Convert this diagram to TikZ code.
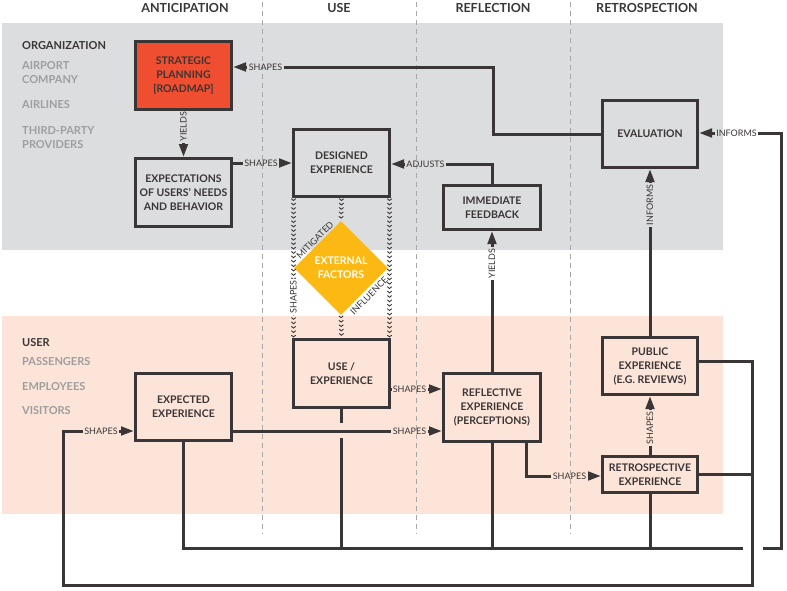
\documentclass[tikz,border=0pt]{standalone}
\usepackage{fontspec}
\setmainfont{Lato}
\usetikzlibrary{arrows.meta,shapes.geometric,decorations.markings}
\definecolor{bandgray}{HTML}{DCDDDF}
\definecolor{bandpeach}{HTML}{FDE4D8}
\definecolor{stratred}{HTML}{F04E30}
\definecolor{extyellow}{HTML}{FDB913}
\definecolor{ink}{HTML}{3A3536}
\definecolor{subgray}{HTML}{9E9E9E}
\definecolor{dashgray}{HTML}{A8A8A8}
\tikzset{
  box/.style={draw=ink, line width=3pt, minimum width=96pt, text=ink, inner sep=0pt,
    font=\bfseries\fontsize{10.5}{14}\selectfont, align=center},
  hdr/.style={text=ink, inner sep=0pt, font=\bfseries\fontsize{12.5}{14}\selectfont, text height=9pt, text depth=0pt},
  side/.style={anchor=west, inner sep=0pt, font=\bfseries\fontsize{11}{13}\selectfont, text height=8pt, text depth=0pt},
  lbl/.style={text=ink, inner sep=1.5pt, font=\fontsize{9}{10}\selectfont, text height=6.4pt, text depth=0pt},
  ln/.style={draw=ink, line width=3pt, line join=miter},
  arr/.style={ln, -{Triangle[length=13pt,width=8.5pt]}},
  chev/.style={postaction={decorate}, decoration={markings,
     mark=between positions 2.5pt and 1 step 4.4pt with {\draw[ink, line width=0.9pt] (-1.8pt,-2.2pt) -- (0pt,0pt) -- (-1.8pt,2.2pt);}}},
  coldash/.style={draw=dashgray, line width=0.8pt, dash pattern=on 5pt off 4pt}
}
\begin{document}
\begin{tikzpicture}[x=1pt,y=-1pt]
\useasboundingbox (0,0) rectangle (787,590);
\fill[white] (0,0) rectangle (787,590);
% bands
\fill[bandgray] (2,23) rectangle (723,250);
\fill[bandpeach] (2,316) rectangle (723,514);
% column separators
\draw[coldash] (262,2) -- (262,534);
\draw[coldash] (416,2) -- (416,534);
\draw[coldash] (570,2) -- (570,534);
% headers
\node[hdr] (hAnt) at (185,7.5) {ANTICIPATION};
\node[hdr] (hUse) at (339,7.5) {USE};
\node[hdr] (hRef) at (493,7.5) {REFLECTION};
\node[hdr] (hRet) at (647,7.5) {RETROSPECTION};
% side labels
\node[side, text=ink] (sOrg) at (22,45) {ORGANIZATION};
\node[side, text=subgray] (sAir1) at (22,65) {AIRPORT};
\node[side, text=subgray] (sAir2) at (22,79) {COMPANY};
\node[side, text=subgray] (sAirl) at (22,104) {AIRLINES};
\node[side, text=subgray] (sTp1) at (22,130) {THIRD-PARTY};
\node[side, text=subgray] (sTp2) at (22,144) {PROVIDERS};
\node[side, text=ink] (sUser) at (22,342) {USER};
\node[side, text=subgray] (sPas) at (22,361.5) {PASSENGERS};
\node[side, text=subgray] (sEmp) at (22,386) {EMPLOYEES};
\node[side, text=subgray] (sVis) at (22,410.5) {VISITORS};
% boxes
\node[box, minimum height=68pt, fill=stratred] (strat) at (183.5,75.5) {STRATEGIC\\PLANNING\\{[ROADMAP]}};
\node[box, minimum height=68pt] (expect) at (183.5,192.5) {EXPECTATIONS\\OF USERS’ NEEDS\\AND BEHAVIOR};
\node[box, minimum height=67pt] (designed) at (341.5,163) {DESIGNED\\EXPERIENCE};
\node[box, minimum height=44pt, minimum width=97pt] (feedback) at (492,207.5) {IMMEDIATE\\FEEDBACK};
\node[box, minimum height=67pt, minimum width=95pt] (eval) at (650,134) {EVALUATION};
\node[box, minimum height=68pt] (use) at (341.5,373.5) {USE /\\EXPERIENCE};
\node[box, minimum height=67pt] (expected) at (183.5,407) {EXPECTED\\EXPERIENCE};
\node[box, minimum height=68pt, minimum width=97pt] (reflective) at (492,407.5) {REFLECTIVE\\EXPERIENCE\\(PERCEPTIONS)};
\node[box, minimum height=57pt, minimum width=95pt] (public) at (650,366) {PUBLIC\\EXPERIENCE\\(E.G. REVIEWS)};
\node[box, minimum height=36pt, minimum width=95pt] (retro) at (650,474.5) {RETROSPECTIVE\\EXPERIENCE};
\node[diamond, fill=extyellow, minimum width=94pt, minimum height=94pt, inner sep=0pt, text=white,
  font=\bfseries\fontsize{10.5}{14}\selectfont, align=center] (ext) at (341,268) {EXTERNAL\\FACTORS};
% chevron influences
\path[chev] ([xshift=1.5pt]designed.south west) -- ([xshift=1.5pt]use.north west);
\path[chev] (designed.south) -- (ext.north);
\path[chev] (ext.south) -- (use.north);
\path[chev] ([xshift=-1.5pt]designed.south east) -- ([xshift=-1.5pt]use.north east);
\node[lbl, rotate=90, fill=white] (lchev) at (293.5,297) {SHAPES};
\node[lbl, rotate=45] (lmit) at (315,240) {MITIGATED};
\node[lbl, rotate=45] (linf) at (369,296) {INFLUENCE};
% 1 evaluation -> strategic planning
\node[lbl] (l1) at (265.5,67) {SHAPES};
\coordinate (k1) at (493,134);
\coordinate (k2) at (493,67);
\draw[ln] (eval.west) -- (k1) -- (k2) -- (l1.east);
\draw[arr] (l1.west) -- (l1.west -| strat.east);
% 2 strategic -> expectations
\node[lbl, rotate=90] (l2) at (183.5,126.5) {YIELDS};
\draw[ln] (strat.south) -- (l2.east);
\draw[arr] (l2.west) -- (expect.north);
% 3 expectations -> designed
\node[lbl] (l3) at (261,163) {SHAPES};
\draw[ln] (l3.west -| expect.east) -- (l3.west);
\draw[arr] (l3.east) -- (l3.east -| designed.west);
% 4 feedback -> designed
\node[lbl] (l4) at (425.5,164) {ADJUSTS};
\draw[ln] (feedback.north) |- (l4.east);
\draw[arr] (l4.west) -- (l4.west -| designed.east);
% 5 use -> reflective
\node[lbl] (l5) at (409.5,389) {SHAPES};
\draw[ln] (l5.west -| use.east) -- (l5.west);
\draw[arr] (l5.east) -- (l5.east -| reflective.west);
% 6 expected -> reflective
\node[lbl] (l6) at (409.5,431) {SHAPES};
\draw[ln] (l6.west -| expected.east) -- (l6.west);
\draw[arr] (l6.east) -- (l6.east -| reflective.west);
% 7 reflective -> feedback
\node[lbl, rotate=90] (l7) at (492,263.5) {YIELDS};
\draw[ln] (reflective.north) -- (l7.west);
\draw[arr] (l7.east) -- (feedback.south);
% 8 reflective -> retrospective
\node[lbl] (l8) at (569.5,476) {SHAPES};
\coordinate (k8) at ([xshift=34pt]reflective.south);
\draw[ln] (k8) |- (l8.west);
\draw[arr] (l8.east) -- (l8.east -| retro.west);
% 9 retrospective -> public
\node[lbl, rotate=90] (l9) at (650,428) {SHAPES};
\draw[ln] (retro.north) -- (l9.west);
\draw[arr] (l9.east) -- (public.south);
% 10 public -> evaluation
\node[lbl, rotate=90] (l10) at (650,205) {INFORMS};
\draw[ln] (public.north) -- (l10.west);
\draw[arr] (l10.east) -- (eval.south);
% 11 bottom bus -> evaluation
\coordinate (b0) at (183.5,548);
\coordinate (b1) at (743,548);
\coordinate (b2) at (763,548);
\coordinate (b3) at (781,548);
\coordinate (h1) at (341.5,423);
\coordinate (h2) at (341.5,438);
\draw[ln] (expected.south) -- (b0) -- (b1);
\draw[ln] (use.south) -- (h1);
\draw[ln] (h2) -- (h2 |- b0);
\draw[ln] (reflective.south) -- (reflective.south |- b0);
\draw[ln] (retro.south) -- (retro.south |- b0);
\node[lbl] (l11) at (736.5,133) {INFORMS};
\draw[ln] (b2) -- (b3) |- (l11.east);
\draw[arr] (l11.west) -- (l11.west -| eval.east);
% 12 public / retrospective -> expected
\coordinate (r1) at (752.5,361);
\coordinate (r2) at (752.5,585.5);
\coordinate (r3) at (63,585.5);
\node[lbl] (l12) at (101,431) {SHAPES};
\draw[ln] ([yshift=5pt]public.east) -- (r1) -- (r2) -- (r3) |- (l12.west);
\draw[ln] (retro.east) -- (retro.east -| r1);
\draw[arr] (l12.east) -- (l12.east -| expected.west);
\end{tikzpicture}
\end{document}
